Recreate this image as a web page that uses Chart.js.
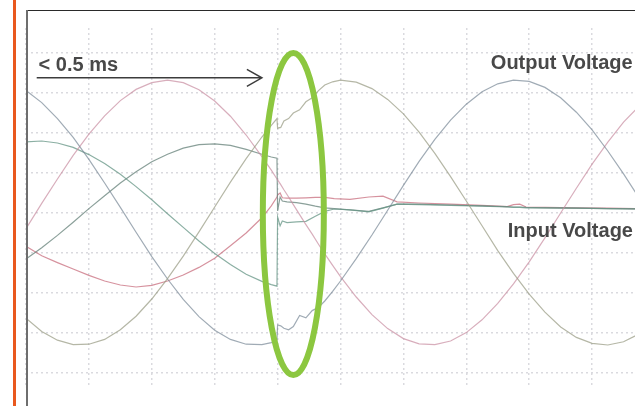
<!DOCTYPE html>
<html>
<head>
<meta charset="utf-8">
<script src="https://cdn.jsdelivr.net/npm/chart.js@4/dist/chart.umd.min.js"></script>
<style>
  html, body { margin: 0; padding: 0; background: #fff; overflow: hidden; }
  #wrap { position: relative; width: 635px; height: 406px; }
  #scope { position: absolute; left: 0; top: 0; }
  .bar { position: absolute; left: 13px; top: 0; width: 3px; height: 406px; background: #e9581e; }
  .frameTop { position: absolute; left: 26px; top: 10px; width: 609px; height: 1px; background: #2a2a2a; }
  .frameLeft { position: absolute; left: 26px; top: 10px; width: 2px; height: 396px; background: #6e6e6e; }
</style>
</head>
<body>
<div id="wrap">
  <canvas id="scope" width="635" height="406"></canvas>
  <div class="bar"></div>
  <div class="frameTop"></div>
  <div class="frameLeft"></div>
</div>
<script>
// Time base: 2 ms per division. Vertical values are in screen divisions.
const timeOut = [0,0.5,1,1.5,2,2.5,3,3.5,4,4.5,5,5.5,6,6.5,7,7.5,
  7.8,7.98,8.0,8.1,8.2,8.35,8.5,8.7,8.9,9.1,9.3,9.5,9.75,
  10,10.5,11,11.5,12,12.5,13,13.5,14,14.5,15,15.5,16,16.5,17,17.5,18,18.5,19,19.5];

const outputA = [-2.63,-2.96,-3.18,-3.29,-3.28,-3.16,-2.92,-2.58,-2.15,-1.64,-1.08,-0.47,0.15,0.77,1.36,1.90,
  2.19,2.36,2.12,2.14,2.30,2.36,2.50,2.58,2.78,2.88,3.06,3.20,3.28,
  3.32,3.27,3.11,2.84,2.48,2.02,1.49,0.91,0.30,-0.32,-0.94,-1.51,-2.03,-2.48,-2.85,-3.11,-3.26,-3.30,-3.22,-3.02];

const outputB = [3.06,2.76,2.36,1.89,1.34,0.75,0.14,-0.48,-1.09,-1.65,-2.16,-2.59,-2.93,-3.16,-3.28,-3.29,
  -3.24,-3.18,-2.80,-2.82,-2.88,-2.92,-2.84,-2.56,-2.62,-2.44,-2.36,-2.20,-1.96,
  -1.70,-1.14,-0.55,0.07,0.69,1.29,1.84,2.32,2.72,3.03,3.23,3.32,3.29,3.14,2.88,2.52,2.08,1.55,0.98,0.37];

const outputC = [-0.39,0.24,0.85,1.44,1.97,2.43,2.81,3.09,3.26,3.32,3.26,3.08,2.80,2.42,1.95,1.41,
  1.07,0.85,0.83,0.71,0.58,0.40,0.21,-0.04,-0.29,-0.53,-0.78,-1.02,-1.31,
  -1.59,-2.10,-2.54,-2.89,-3.14,-3.27,-3.29,-3.20,-2.99,-2.67,-2.26,-1.77,-1.22,-0.62,0.00,0.62,1.22,1.77,2.27,2.68];

const timeIn = [0,0.5,1,1.5,2,2.5,3,3.5,4,4.5,5,5.5,6,6.5,7,7.5,
  7.8,7.98,8.0,8.08,8.15,8.3,8.6,8.9,9.2,9.5,9.8,10.3,10.9,11.35,11.8,
  12.5,13.5,14.5,15.3,15.5,15.7,15.9,16.5,17.5,18.5,19.5];

const inputA = [1.78,1.80,1.75,1.64,1.46,1.24,0.97,0.66,0.33,-0.02,-0.36,-0.70,-1.01,-1.29,-1.53,-1.71,
  -1.79,-1.83,-0.10,-0.32,-0.20,-0.24,-0.22,-0.21,-0.08,0.04,0.10,0.08,0.03,0.12,0.22,
  0.21,0.19,0.17,0.15,0.14,0.14,0.13,0.13,0.12,0.11,0.10];

const inputB = [-1.15,-0.87,-0.56,-0.23,0.11,0.43,0.75,1.03,1.28,1.47,1.62,1.71,1.73,1.69,1.59,1.47,
  1.40,1.37,0.05,0.40,0.30,0.28,0.26,0.22,0.17,0.13,0.11,0.08,0.04,0.13,0.22,
  0.22,0.20,0.18,0.16,0.15,0.15,0.14,0.13,0.12,0.11,0.10];

const inputC = [-0.83,-1.07,-1.24,-1.40,-1.56,-1.70,-1.80,-1.85,-1.81,-1.70,-1.55,-1.36,-1.13,-0.82,-0.50,-0.12,
  0.18,0.40,0.45,0.50,0.38,0.37,0.37,0.38,0.39,0.39,0.36,0.34,0.40,0.42,0.28,
  0.25,0.22,0.19,0.16,0.21,0.22,0.15,0.14,0.13,0.12,0.11];

// Division grid
const timeGrid = [0,2,4,6,8,10,12,14,16,18];
const levelGrid = [-4,-3,-2,-1,0,1,2,3,4];

// Annotations
const transferLabel = '< 0.5 ms';
const outputLabel = 'Output Voltage';
const inputLabel = 'Input Voltage';
const arrowSpan = { from: 0.34, to: 7.5, level: 3.38 };
const transferWindow = { tStart: 7.53, tEnd: 9.47, top: 4.0, bottom: -4.05 };

function pairs(ts, vs) { return ts.map((t, i) => ({ x: t, y: vs[i] })); }

function trace(label, ts, vs, color) {
  return {
    label, data: pairs(ts, vs), borderColor: color, borderWidth: 1.2,
    pointRadius: 0, fill: false, tension: 0
  };
}

const annotate = {
  id: 'annotate',
  afterDatasetsDraw(chart) {
    const { ctx, scales: { x, y } } = chart;
    ctx.save();
    // Transfer-time arrow
    const ax1 = x.getPixelForValue(arrowSpan.from);
    const ax2 = x.getPixelForValue(arrowSpan.to);
    const ay = y.getPixelForValue(arrowSpan.level);
    ctx.strokeStyle = '#3c3c3c';
    ctx.lineWidth = 1.5;
    ctx.beginPath();
    ctx.moveTo(ax1, ay); ctx.lineTo(ax2, ay);
    ctx.moveTo(ax2 - 15, ay - 8.5); ctx.lineTo(ax2, ay); ctx.lineTo(ax2 - 15, ay + 8.5);
    ctx.stroke();

    // Labels
    ctx.fillStyle = '#484848';
    ctx.font = 'bold 20px "Liberation Sans", Arial, sans-serif';
    ctx.textBaseline = 'alphabetic';
    ctx.textAlign = 'left';
    ctx.fillText(transferLabel, x.getPixelForValue(0.4), y.getPixelForValue(3.55));
    ctx.fillText(outputLabel, x.getPixelForValue(14.78), y.getPixelForValue(3.6));
    ctx.fillText(inputLabel, x.getPixelForValue(15.32), y.getPixelForValue(-0.6));

    // Transfer window highlight
    const l = x.getPixelForValue(transferWindow.tStart);
    const r = x.getPixelForValue(transferWindow.tEnd);
    const t = y.getPixelForValue(transferWindow.top);
    const b = y.getPixelForValue(transferWindow.bottom);
    ctx.strokeStyle = 'rgb(140,199,64)';
    ctx.lineWidth = 6;
    ctx.beginPath();
    ctx.ellipse((l + r) / 2, (t + b) / 2, (r - l) / 2, (b - t) / 2, 0, 0, Math.PI * 2);
    ctx.stroke();
    ctx.restore();
  }
};

new Chart(document.getElementById('scope'), {
  type: 'line',
  data: {
    datasets: [
      trace('Output A', timeOut, outputA, 'rgba(150,152,128,0.7)'),
      trace('Output B', timeOut, outputB, 'rgba(120,136,150,0.7)'),
      trace('Output C', timeOut, outputC, 'rgba(200,140,160,0.7)'),
      trace('Input A', timeIn, inputA, 'rgba(100,148,132,0.75)'),
      trace('Input B', timeIn, inputB, 'rgba(100,128,120,0.75)'),
      trace('Input C', timeIn, inputC, 'rgba(200,110,125,0.75)')
    ]
  },
  options: {
    responsive: false,
    devicePixelRatio: 1,
    animation: false,
    layout: { padding: { left: 26, top: 28, right: 0, bottom: 18 } },
    plugins: { legend: { display: false }, tooltip: { enabled: false } },
    scales: {
      x: {
        type: 'linear', min: 0, max: 19.364,
        afterBuildTicks: (axis) => { axis.ticks = timeGrid.map(v => ({ value: v })); },
        ticks: { display: false },
        grid: { color: 'rgba(214,214,220,0.9)', lineWidth: 1.5, drawTicks: false },
        border: { display: false, dash: [2, 3] }
      },
      y: {
        type: 'linear', min: -4.375, max: 4.625,
        afterBuildTicks: (axis) => { axis.ticks = levelGrid.map(v => ({ value: v })); },
        ticks: { display: false },
        grid: { color: 'rgba(214,214,220,0.9)', lineWidth: 1.5, drawTicks: false },
        border: { display: false, dash: [2, 3] }
      }
    }
  },
  plugins: [annotate]
});
</script>
</body>
</html>
